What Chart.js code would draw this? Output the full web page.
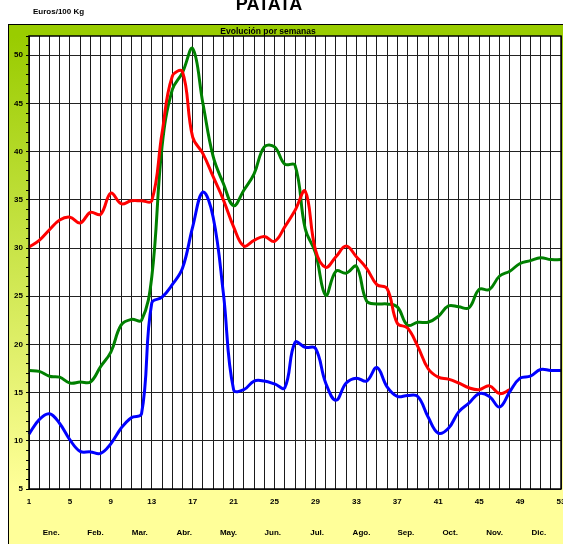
<!DOCTYPE html>
<html>
<head>
<meta charset="utf-8">
<script src="https://cdn.jsdelivr.net/npm/chart.js"></script>
<style>
  body { margin: 0; background: #fff; }
</style>
</head>
<body>
<canvas id="grafico" width="563" height="544"></canvas>
<script>
// semanas del año
const semanas = ['1','2','3','4','5','6','7','8','9','10','11','12','13','14','15','16','17','18','19','20',
  '21','22','23','24','25','26','27','28','29','30','31','32','33','34','35','36','37','38','39','40',
  '41','42','43','44','45','46','47','48','49','50','51','52','53'];
const meses = ['Ene.','Feb.','Mar.','Abr.','May.','Jun.','Jul.','Ago.','Sep.','Oct.','Nov.','Dic.'];

// precios (Euros/100 Kg)
const rojo = [30.1,30.8,31.9,32.9,33.2,32.6,33.7,33.5,35.7,34.6,
  34.9,34.9,34.9,41.9,47.8,48.3,41.5,39.8,37.4,35.0,
  32.2,30.2,30.8,31.2,30.7,32.2,33.9,35.9,29.8,28.0,
  29.1,30.2,29.1,27.9,26.2,25.8,22.2,21.7,19.8,17.5,
  16.6,16.4,16.0,15.5,15.3,15.7,14.9,15.3];
const verde = [17.3,17.2,16.7,16.6,16.0,16.1,16.1,17.7,19.2,22.0,
  22.6,22.5,27.0,40.5,46.4,48.2,50.7,45.0,39.5,36.7,
  34.4,36.0,37.7,40.5,40.5,38.7,38.6,32.0,29.5,25.1,
  27.6,27.4,28.1,24.5,24.2,24.2,23.9,22.0,22.3,22.3,
  22.9,24.0,23.9,23.8,25.7,25.7,27.1,27.6,28.4,28.7,
  29.0,28.8,28.8];
const azul = [10.7,12.2,12.8,11.8,10.1,8.9,8.85,8.7,9.7,11.3,
  12.4,12.8,24.3,24.9,26.2,27.9,32.2,35.8,33.2,25.3,
  15.3,15.3,16.2,16.2,15.9,15.5,20.2,19.7,19.6,16.0,
  14.2,16.0,16.5,16.2,17.6,15.6,14.6,14.7,14.6,12.5,
  10.8,11.3,13.0,13.9,14.9,14.6,13.5,15.1,16.5,16.7,
  17.4,17.3,17.3];

const fuente = 'Liberation Sans, Arial, sans-serif';

const fondo = {
  id: 'fondo',
  beforeDraw(chart) {
    const ctx = chart.ctx;
    const a = chart.chartArea;
    ctx.save();
    const g = ctx.createLinearGradient(0, 36, 0, 490);
    g.addColorStop(0, '#99cc00');
    g.addColorStop(1, '#ffff99');
    ctx.fillStyle = g;
    ctx.fillRect(8, 24, 555, 466);
    ctx.fillStyle = '#ffff99';
    ctx.fillRect(8, 489, 555, 55);
    ctx.fillStyle = '#99cc00';
    ctx.fillRect(8, 24, 555, 12);
    ctx.fillStyle = '#ffffff';
    ctx.fillRect(a.left, a.top, a.right - a.left, a.bottom - a.top);
    ctx.strokeStyle = '#000';
    ctx.lineWidth = 1;
    ctx.strokeRect(8.5, 24.5, 560, 525);
    ctx.restore();
  },
  afterDraw(chart) {
    const ctx = chart.ctx;
    const a = chart.chartArea;
    ctx.save();
    ctx.strokeStyle = '#000';
    ctx.lineWidth = 1.5;
    ctx.strokeRect(a.left, a.top, a.right - a.left, a.bottom - a.top);
    ctx.fillStyle = '#000';
    ctx.textBaseline = 'alphabetic';
    ctx.textAlign = 'center';
    ctx.font = 'bold 18px ' + fuente;
    ctx.fillText('PATATA', 269, 10);
    ctx.font = 'bold 8.5px ' + fuente;
    ctx.fillText('Evolución por semanas', 268, 34);
    ctx.font = 'bold 8px ' + fuente;
    ctx.textAlign = 'left';
    ctx.fillText('Euros/100 Kg', 33, 14);
    ctx.restore();
  }
};

new Chart(document.getElementById('grafico'), {
  type: 'line',
  data: {
    labels: semanas,
    datasets: [{
      label: 'azul',
      data: azul,
      borderColor: '#0000ff',
      borderWidth: 3,
      pointRadius: 0,
      tension: 0.4,
      fill: false
    }, {
      label: 'rojo',
      data: rojo,
      borderColor: '#ff0000',
      borderWidth: 3,
      pointRadius: 0,
      tension: 0.4,
      fill: false
    }, {
      label: 'verde',
      data: verde,
      borderColor: '#008000',
      borderWidth: 3,
      pointRadius: 0,
      tension: 0.4,
      fill: false
    }]
  },
  options: {
    responsive: false,
    animation: false,
    layout: { padding: { left: 0, top: 36, right: 2, bottom: 0 } },
    plugins: {
      legend: { display: false },
      tooltip: { enabled: false }
    },
    scales: {
      x: {
        offset: false,
        grid: { color: '#1a1a1a', lineWidth: 1, drawTicks: false },
        border: { display: false },
        ticks: {
          autoSkip: false,
          maxRotation: 0,
          padding: 8,
          color: '#000',
          font: { family: fuente, size: 8, weight: 'bold' },
          callback: function (v, i) { return i % 4 === 0 ? semanas[i] : ''; }
        },
        afterFit(s) { s.height = 25; s.paddingLeft = 0; s.paddingRight = 0; }
      },
      meses: {
        type: 'category',
        labels: meses,
        position: 'bottom',
        offset: true,
        grid: { display: false, drawTicks: false },
        border: { display: false },
        ticks: {
          autoSkip: false,
          maxRotation: 0,
          padding: 14,
          color: '#000',
          font: { family: fuente, size: 8, weight: 'bold' }
        },
        afterFit(s) { s.height = 30; s.paddingLeft = 0; s.paddingRight = 0; }
      },
      y: {
        min: 5,
        max: 52,
        grid: {
          color: c => (c.tick && c.tick.value % 5 === 0) ? '#222' : 'rgba(0,0,0,0)',
          tickColor: '#000',
          tickLength: 3,
          lineWidth: 1
        },
        border: { display: false },
        ticks: {
          stepSize: 1,
          autoSkip: false,
          padding: 3,
          color: '#000',
          font: { family: fuente, size: 8, weight: 'bold' },
          callback: v => (v % 5 === 0 ? v : '')
        },
        afterFit(s) { s.width = 29; }
      }
    }
  },
  plugins: [fondo]
});
</script>
</body>
</html>
